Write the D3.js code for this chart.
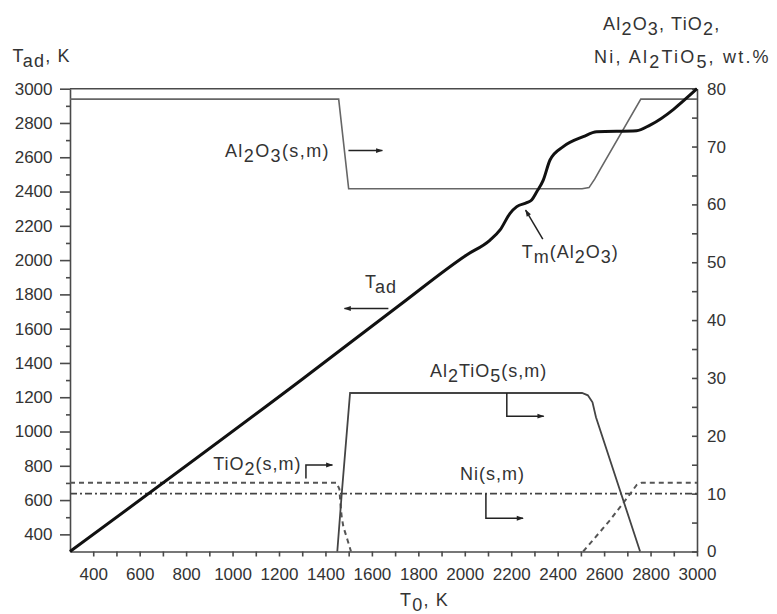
<!DOCTYPE html>
<html>
<head>
<meta charset="utf-8">
<script src="https://cdn.jsdelivr.net/npm/d3@7"></script>
<style>
  body { margin: 0; background: #fff; }
  svg { display: block; font-family: "Liberation Sans", Arial, sans-serif; }
  .axis path, .axis line { stroke: #4a4a4a; stroke-width: 1.6; }
  .axis text { fill: #333; font-size: 17px; font-family: "Liberation Sans", Arial, sans-serif; }
  .note { fill: #333; font-size: 18px; letter-spacing: 1px; }
</style>
</head>
<body>
<div id="chart"></div>
<script>
// T0 (K) -> T_ad (K), left axis
const tAd = [[300, 300], [1300, 1305], [1720, 1738], [2008, 2030], [2109, 2117], [2152, 2176],
  [2195, 2273], [2224, 2312], [2267, 2335], [2288, 2351], [2310, 2399], [2338, 2467],
  [2367, 2584], [2424, 2662], [2510, 2720], [2568, 2749], [2740, 2755], [2798, 2788],
  [3000, 3000]];

// T0 (K) -> wt.%, right axis
const al2o3 = [[300, 78.2], [1457, 78.2], [1500, 62.7], [2505, 62.7], [2535, 62.9], [2560, 64.4],
  [2585, 66.2], [2758, 78.2], [3000, 78.2]];
const al2tio5 = [[1451, 0], [1470, 9.9], [1506, 27.4], [2505, 27.4], [2530, 27.0], [2550, 25.8],
  [2565, 23.2], [2755, 0]];
const tio2Low = [[300, 11.9], [1448, 11.9], [1460, 10.8], [1465, 8], [1470, 6], [1477, 4.3],
  [1495, 2], [1510, 0]];
const tio2High = [[2510, 0], [2625, 5.4], [2700, 9.3], [2740, 11.5], [2762, 11.9], [3000, 11.9]];
const ni = [[300, 10], [3000, 10]];

const xMajor = d3.range(400, 3001, 200);
const xMinor = d3.range(500, 3000, 200);
const yMajor = d3.range(400, 3001, 200);
const yMinor = d3.range(500, 3000, 200);
const rMajor = d3.range(0, 81, 10);
const rMinor = d3.range(5, 80, 10);

const W = 777, H = 614;
const plotL = 70, plotR = 697, plotT = 88.7, plotB = 551.5;

const svg = d3.select("#chart").append("svg").attr("width", W).attr("height", H);

svg.append("defs").append("marker")
  .attr("id", "arr")
  .attr("viewBox", "0 0 10 10")
  .attr("refX", 9).attr("refY", 5)
  .attr("markerWidth", 9).attr("markerHeight", 7)
  .attr("markerUnits", "userSpaceOnUse")
  .attr("orient", "auto")
  .append("path").attr("d", "M0,1.5L10,5L0,8.5Z").attr("fill", "#222");

const x = d3.scaleLinear().domain([300, 3000]).range([plotL, plotR]);
const yL = d3.scaleLinear().domain([300, 3000]).range([plotB, plotT]);
const yR = d3.scaleLinear().domain([0, 80]).range([plotB, plotT]);
const fmt = d3.format("d");

// axes
svg.append("g").attr("class", "axis").attr("transform", `translate(0,${plotB})`)
  .call(d3.axisBottom(x).tickValues(xMajor).tickFormat(fmt).tickSize(5).tickPadding(11.5).tickSizeOuter(0));
svg.append("g").attr("class", "axis").attr("transform", `translate(0,${plotB})`)
  .call(d3.axisBottom(x).tickValues(xMinor).tickSize(5).tickFormat("").tickSizeOuter(0))
  .select(".domain").remove();

svg.append("g").attr("class", "axis").attr("transform", `translate(${plotL},0)`)
  .call(d3.axisLeft(yL).tickValues(yMajor).tickFormat(fmt).tickSize(10).tickPadding(7.5).tickSizeOuter(0));
svg.append("g").attr("class", "axis").attr("transform", `translate(${plotL},0)`)
  .call(d3.axisLeft(yL).tickValues(yMinor).tickSize(4).tickFormat("").tickSizeOuter(0))
  .select(".domain").remove();

svg.append("g").attr("class", "axis").attr("transform", `translate(${plotR},0)`)
  .call(d3.axisRight(yR).tickValues(rMajor).tickFormat(fmt).tickSize(-5).tickPadding(10).tickSizeOuter(0));
svg.append("g").attr("class", "axis").attr("transform", `translate(${plotR},0)`)
  .call(d3.axisRight(yR).tickValues(rMinor).tickSize(-5).tickFormat("").tickSizeOuter(0))
  .select(".domain").remove();

// top frame line
svg.append("line")
  .attr("x1", x(300)).attr("x2", x(3000)).attr("y1", yL(3000)).attr("y2", yL(3000))
  .attr("stroke", "#4a4a4a").attr("stroke-width", 1.6);

// curves
const lineR = d3.line().x(d => x(d[0])).y(d => yR(d[1]));
const lineL = d3.line().x(d => x(d[0])).y(d => yL(d[1])).curve(d3.curveMonotoneX);

svg.append("path").datum(ni).attr("d", lineR)
  .attr("fill", "none").attr("stroke", "#444").attr("stroke-width", 1.6)
  .attr("stroke-dasharray", "7,3,2,3");
svg.append("path").datum(tio2Low).attr("d", lineR)
  .attr("fill", "none").attr("stroke", "#555").attr("stroke-width", 2)
  .attr("stroke-dasharray", "5,4");
svg.append("path").datum(tio2High).attr("d", lineR)
  .attr("fill", "none").attr("stroke", "#555").attr("stroke-width", 2)
  .attr("stroke-dasharray", "5,4");
svg.append("path").datum(al2o3).attr("d", lineR)
  .attr("fill", "none").attr("stroke", "#666").attr("stroke-width", 1.6);
svg.append("path").datum(al2tio5).attr("d", lineR)
  .attr("fill", "none").attr("stroke", "#444").attr("stroke-width", 1.8);

svg.append("path").datum(tAd).attr("d", lineL)
  .attr("fill", "none").attr("stroke", "#111").attr("stroke-width", 3);

// text with subscripts: parts = [[text, isSub], ...]
function rich(px, py, parts, cls, size, ls) {
  const t = svg.append("text").attr("x", px).attr("y", py).attr("class", cls);
  if (size) t.style("font-size", size + "px");
  if (ls != null) t.style("letter-spacing", ls + "px");
  let low = false;
  parts.forEach(([s, sub]) => {
    const sp = t.append("tspan").text(s);
    if (sub && !low) { sp.attr("dy", 5); low = true; }
    else if (!sub && low) { sp.attr("dy", -5); low = false; }
  });
  return t;
}

// axis titles
rich(12.5, 61.5, [["T"], ["ad", 1], [", K"]], "note", 18, 1.2);
rich(400, 606, [["T"], ["0", 1], [", K"]], "note", 18, 1.2);
rich(603, 29.5, [["Al"], ["2", 1], ["O"], ["3", 1], [", TiO"], ["2", 1], [","]], "note", 18, 1.2);
rich(594, 63, [["Ni, Al"], ["2", 1], ["TiO"], ["5", 1], [", wt.%"]], "note", 18, 2.2);

// annotations
function arrow(pts) {
  svg.append("path")
    .attr("d", d3.line()(pts.map(p => [x(p[0]), yR(p[1])])))
    .attr("fill", "none").attr("stroke", "#222").attr("stroke-width", 1.5)
    .attr("marker-end", "url(#arr)");
}

rich(x(967), yR(68.2), [["Al"], ["2", 1], ["O"], ["3", 1], ["(s,m)"]], "note", 18, 1.4);
arrow([[1499, 69.3], [1645, 69.3]]);

rich(x(2245), yR(50.7), [["T"], ["m", 1], ["(Al"], ["2", 1], ["O"], ["3", 1], [")"]], "note");
arrow([[2336, 54.0], [2262, 59.0]]);

rich(x(1570), yR(45.5), [["T"], ["ad", 1]], "note");
arrow([[1671, 42.0], [1482, 42.0]]);

rich(x(1850), yR(30.2), [["Al"], ["2", 1], ["TiO"], ["5", 1], ["(s,m)"]], "note");
arrow([[2181, 27.4], [2181, 23.4], [2340, 23.4]]);

rich(x(917), yR(14.1), [["TiO"], ["2", 1], ["(s,m)"]], "note");
arrow([[1316, 12.6], [1316, 14.95], [1430, 14.95]]);

rich(x(1979), yR(12.4), [["Ni(s,m)"]], "note");
arrow([[2091, 10], [2091, 5.74], [2251, 5.74]]);
</script>
</body>
</html>
